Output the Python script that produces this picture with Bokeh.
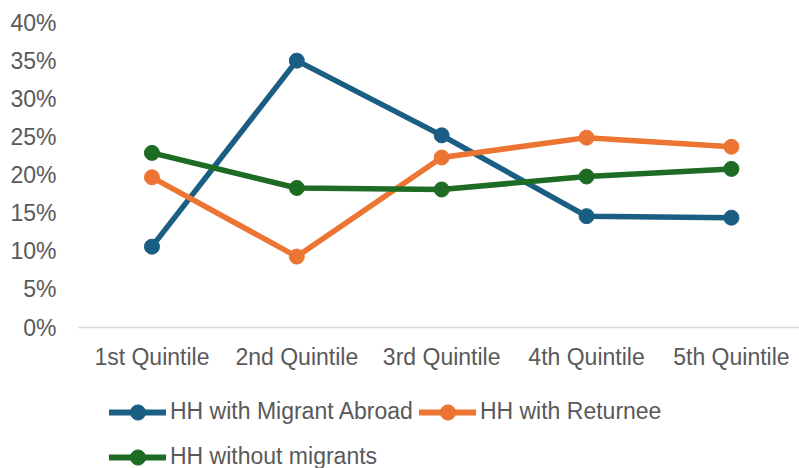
from bokeh.plotting import figure
from bokeh.layouts import column
from bokeh.models import Range1d, FixedTicker, NumeralTickFormatter, Legend, LegendItem
from bokeh.embed import file_html
from bokeh.resources import INLINE

categories = ["1st Quintile", "2nd Quintile", "3rd Quintile", "4th Quintile", "5th Quintile"]
migrant_abroad = [0.106, 0.350, 0.252, 0.146, 0.144]
returnee = [0.197, 0.093, 0.223, 0.249, 0.237]
without_migrants = [0.229, 0.183, 0.181, 0.198, 0.208]
series_names = ["HH with Migrant Abroad", "HH with Returnee", "HH without migrants"]
series_colors = ["#1a5e83", "#ec7533", "#1e6b24"]
y_ticks = [0.0, 0.05, 0.10, 0.15, 0.20, 0.25, 0.30, 0.35, 0.40]

FONT = "Liberation Sans"
TXT = "#595959"
FS = "23px"

x_idx = list(range(len(categories)))
series_vals = [migrant_abroad, returnee, without_migrants]

p = figure(width=799, height=372, output_backend="svg", toolbar_location=None,
           x_range=Range1d(-0.507, 4.47), y_range=Range1d(0, 0.40),
           min_border_left=78, min_border_right=0, min_border_top=22, min_border_bottom=44)
p.outline_line_color = None
p.xgrid.visible = False
p.ygrid.visible = False

# y axis
p.yaxis.ticker = FixedTicker(ticks=y_ticks)
p.yaxis.formatter = NumeralTickFormatter(format="0%")
p.yaxis.axis_line_color = None
p.yaxis.major_tick_line_color = None
p.yaxis.minor_tick_line_color = None
p.yaxis.major_tick_out = 0
p.yaxis.major_label_standoff = 22
p.yaxis.major_label_text_font = FONT
p.yaxis.major_label_text_font_size = FS
p.yaxis.major_label_text_color = TXT

# x axis
p.xaxis.ticker = FixedTicker(ticks=x_idx)
p.xaxis.major_label_overrides = {i: c for i, c in zip(x_idx, categories)}
p.xaxis.axis_line_color = "#d9d9d9"
p.xaxis.axis_line_width = 1.5
p.xaxis.major_tick_line_color = None
p.xaxis.minor_tick_line_color = None
p.xaxis.major_tick_out = 0
p.xaxis.major_label_standoff = 16
p.xaxis.major_label_text_font = FONT
p.xaxis.major_label_text_font_size = FS
p.xaxis.major_label_text_color = TXT

for vals, col in zip(series_vals, series_colors):
    p.line(x_idx, vals, line_color=col, line_width=5.5, line_join="round", line_cap="round")
    p.scatter(x_idx, vals, size=15, fill_color=col, line_color=col)

# legend strip below the chart (its own figure, with out-of-view copies of the series)
pl = figure(width=799, height=96, output_backend="svg", toolbar_location=None,
            x_axis_type=None, y_axis_type=None,
            x_range=Range1d(10, 11), y_range=Range1d(10, 11),
            min_border_left=0, min_border_right=0, min_border_top=0, min_border_bottom=0)
pl.outline_line_color = None
pl.xgrid.visible = False
pl.ygrid.visible = False

items = []
for name, vals, col in zip(series_names, series_vals, series_colors):
    lr = pl.line(x_idx, vals, line_color=col, line_width=6, line_join="round", line_cap="round")
    sr = pl.scatter(x_idx, vals, size=15, fill_color=col, line_color=col)
    items.append(LegendItem(label=name, renderers=[lr, sr]))

legend = Legend(items=items, location=(31, -8), orientation="horizontal", ncols=2,
                padding=0, margin=0, spacing=6,
                glyph_width=57, glyph_height=38, label_height=39, label_standoff=4,
                label_text_font=FONT, label_text_font_size=FS, label_text_color=TXT,
                border_line_color=None, background_fill_alpha=0)
pl.add_layout(legend, "center")

layout = column(p, pl, spacing=0)
open("out.html", "w").write(file_html(layout, INLINE))
